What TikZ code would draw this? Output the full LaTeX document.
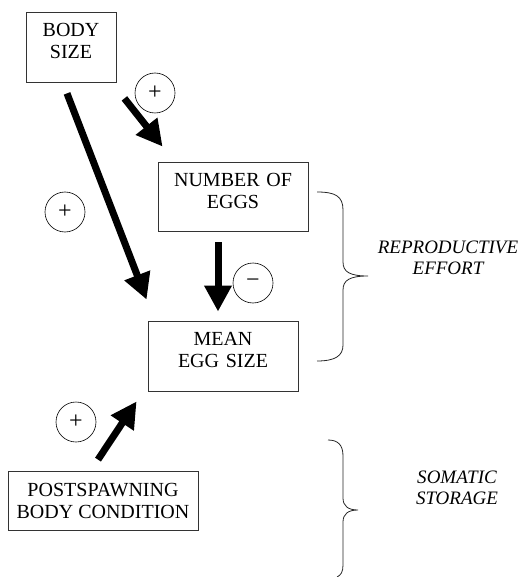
\documentclass[tikz,border=0pt]{standalone}
\usepackage{fontspec}
\setmainfont{Liberation Serif}
\usetikzlibrary{arrows.meta}
\newcommand{\boxfont}{\fontsize{20}{22}\selectfont}
\newcommand{\groupfont}{\fontsize{19}{21}\selectfont}
\newcommand{\signfont}{\fontsize{24}{24}\selectfont}

\begin{document}
\begin{tikzpicture}[x=1pt,y=-1pt,
		box node/.style = {draw=black!80, line width=0.8pt, align=center, font=\boxfont, inner sep=0pt},
		sign node/.style = {circle, draw, line width=0.6pt, minimum size=40pt, inner sep=0pt, font=\signfont},
		effect/.style = {line width=7pt, -{Triangle[length=26pt,width=26pt]}},
		brace line/.style = {line width=0.8pt, black!85},
		group node/.style = {align=center, font=\groupfont\itshape}]
	\useasboundingbox (0,0) rectangle (520,577);
	
	\node[box node, minimum width=90pt, minimum height=70pt, text width=80pt, text depth=34pt] (body) at (71,47) {BODY\\SIZE};
	\node[box node, minimum width=150pt, minimum height=69pt, text width=140pt, text depth=34pt] (number) at (233,196.5) {NUMBER OF\\EGGS};
	\node[box node, minimum width=150pt, minimum height=70pt, text width=140pt, text depth=34pt] (mean) at (223,356) {MEAN\\EGG SIZE};
	\node[box node, minimum width=190pt, minimum height=59pt] (post) at (103,500.5) {POSTSPAWNING\\BODY CONDITION};
	
	\node[sign node] (s1) at (155,93) {+};
	\node[sign node] (s2) at (65,212) {+};
	\node[sign node] (s3) at (253,283) {−};
	\node[sign node] (s4) at (76,422) {+};
	
	\draw[effect] ([xshift=-4pt,yshift=-11pt]body.south) -- ([xshift=-1pt,yshift=21pt]mean.north west);
	\draw[effect] ([xshift=8pt,yshift=-16pt]body.south east) -- ([xshift=5pt,yshift=15pt]number.north west);
	\draw[effect] ([xshift=-15pt,yshift=-11pt]number.south) -- ([xshift=-5pt,yshift=9pt]mean.north);
	\draw[effect] ([xshift=-5pt,yshift=11pt]post.north) -- ([xshift=-11pt,yshift=-10pt]mean.south west);
	
	% braces
	\draw[brace line] (317,192) .. controls (335,192) and (343,196) .. (343,210) -- (343,262)
		.. controls (343,272) and (350,276) .. (368,276) .. controls (350,276) and (343,280) .. (343,290)
		-- (343,345) .. controls (343,356) and (335,361) .. (317,361);
	\draw[brace line] (328,440) .. controls (338,440) and (343,445) .. (343,456) -- (343,498)
		.. controls (343,506) and (348,510) .. (358,510) .. controls (348,510) and (343,514) .. (343,522)
		-- (343,565) .. controls (343,572) and (341,575) .. (337,577);
	
	\node[group node] (effort) at (448,258) {REPRODUCTIVE\\EFFORT};
	\node[group node] (storage) at (457,488) {SOMATIC\\STORAGE};
	
\end{tikzpicture}
\end{document}
